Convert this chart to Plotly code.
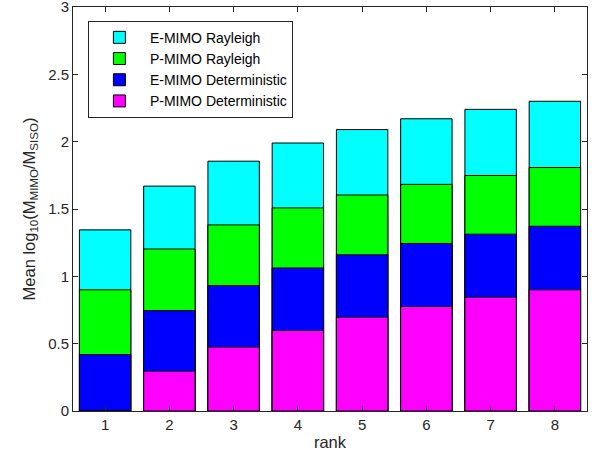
import plotly.graph_objects as go

ranks = [1, 2, 3, 4, 5, 6, 7, 8]
e_mimo_rayleigh = [1.345, 1.67, 1.855, 1.99, 2.09, 2.17, 2.24, 2.30]
p_mimo_rayleigh = [0.90, 1.203, 1.382, 1.508, 1.604, 1.683, 1.749, 1.808]
e_mimo_det = [0.419, 0.746, 0.931, 1.062, 1.160, 1.244, 1.313, 1.372]
p_mimo_det = [0.0, 0.296, 0.475, 0.599, 0.697, 0.776, 0.845, 0.90]

series = [
    ("E-MIMO Rayleigh", e_mimo_rayleigh, "#00FFFF"),
    ("P-MIMO Rayleigh", p_mimo_rayleigh, "#00FF00"),
    ("E-MIMO Deterministic", e_mimo_det, "#0000FF"),
    ("P-MIMO Deterministic", p_mimo_det, "#FF00FF"),
]

fig = go.Figure()
for name, vals, col in series:
    fig.add_trace(go.Bar(x=ranks, y=vals, name=name, width=0.8,
                         marker=dict(color=col, line=dict(color="black", width=1))))

axis_common = dict(showline=True, linecolor="#262626", linewidth=1, mirror="ticks",
                   ticks="inside", ticklen=5, tickcolor="#262626", showgrid=False,
                   zeroline=False, automargin=False, ticklabeloverflow="allow",
                   tickfont=dict(size=15, color="#262626"))

fig.update_layout(
    barmode="overlay",
    width=593, height=465,
    margin=dict(l=73, r=6, t=7, b=54),
    plot_bgcolor="white", paper_bgcolor="white",
    font=dict(family="Liberation Sans, Arial, sans-serif", color="#262626"),
    xaxis=dict(range=[0.5, 8.5], tickvals=ranks,
               title=dict(text="rank", font=dict(size=16.5), standoff=4), **axis_common),
    yaxis=dict(range=[0, 3], tickvals=[0, 0.5, 1, 1.5, 2, 2.5, 3],
               title=dict(text="Mean log<sub>10</sub>(M<sub>MIMO</sub>/M<sub>SISO</sub>)",
                          font=dict(size=16.5), standoff=8), **axis_common),
    legend=dict(x=0.029, y=0.966, xanchor="left", yanchor="top",
                bordercolor="#262626", borderwidth=1, bgcolor="white",
                font=dict(size=14, color="black"), traceorder="normal",
                tracegroupgap=0, itemwidth=51),
    bargap=0.2,
)

fig.write_html("out.html", config={"displayModeBar": False},
               post_script="document.body.style.margin='0px';")
